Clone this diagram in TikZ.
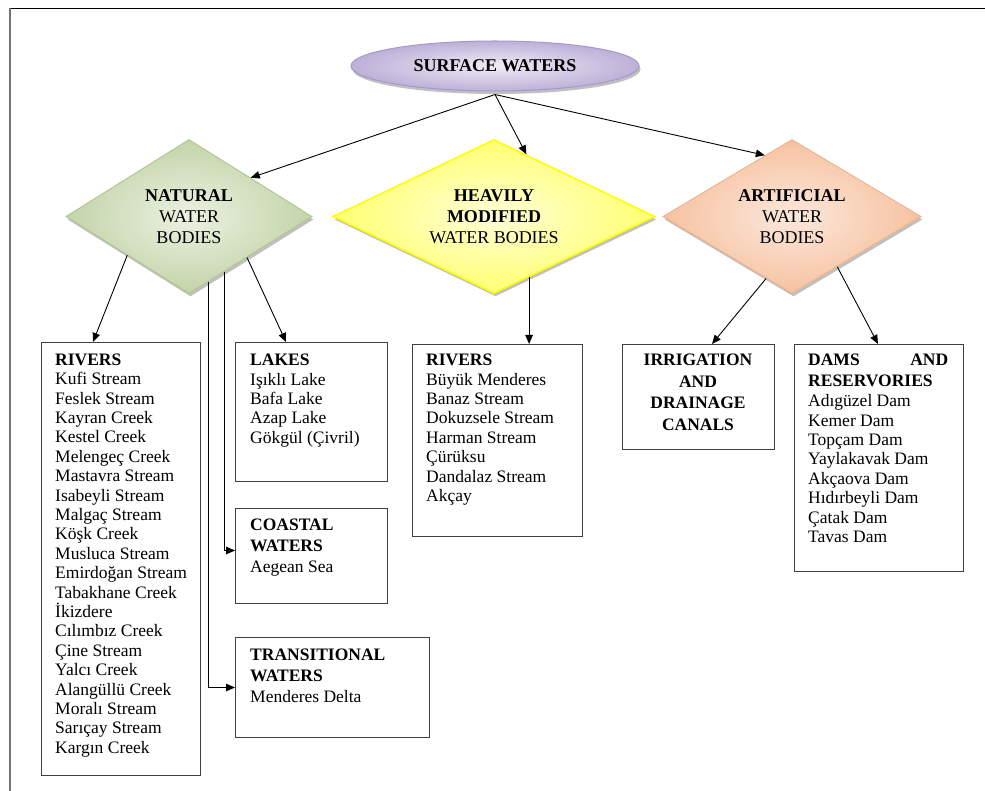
\documentclass[tikz,border=0pt]{standalone}
\usepackage{fontspec}
\setmainfont{Liberation Serif}
\usetikzlibrary{shapes.geometric,arrows.meta,calc,shadows}

\definecolor{lavEdge}{HTML}{BEB0D8}
\definecolor{lavCore}{HTML}{F0ECF6}
\definecolor{lavLine}{HTML}{A898C8}
\definecolor{grnEdge}{HTML}{C4D4A8}
\definecolor{grnCore}{HTML}{EBF1E2}
\definecolor{grnLine}{HTML}{B2C794}
\definecolor{ylwEdge}{HTML}{FFFF70}
\definecolor{ylwCore}{HTML}{FFFFD8}
\definecolor{ylwLine}{HTML}{FFFF00}
\definecolor{pchEdge}{HTML}{F6C2A0}
\definecolor{pchCore}{HTML}{FCE8DC}
\definecolor{pchLine}{HTML}{EFB48E}

\begin{document}
\begin{tikzpicture}[x=1pt,y=-1pt,
  link/.style={line width=0.9pt,-{Triangle[length=9pt,width=7.5pt]}},
  box/.style={draw=black!75,line width=1pt,fill=white,inner sep=0pt,anchor=north west},
  list/.style={anchor=north west,inner sep=0pt,align=left,
    font=\fontsize{17.5}{19.4}\selectfont,
    execute at begin node={\rule{0pt}{14pt}}},
  head/.style={list,font=\fontsize{17.5}{20.8}\selectfont},
  softshadow/.style={drop shadow={shadow xshift=1.5pt,shadow yshift=-3pt,fill=black!45,opacity=0.55}},
  kind/.style={shape=diamond,inner sep=0pt,align=center,line width=1pt,
    font=\fontsize{18}{21}\selectfont,softshadow},
]
\useasboundingbox (0,0) rectangle (985,791);

% page frame
\draw[black,line width=1.6pt] (10,8.5) -- (985,8.5);
\draw[black!55,line width=1.6pt] (10,8.5) -- (10,791);

% root
\node[ellipse,minimum width=288pt,minimum height=50pt,draw=lavLine,line width=1pt,
  shading=radial,inner color=lavCore,outer color=lavEdge,softshadow,
  font=\fontsize{18}{21}\selectfont] (sw) at (495,66) {\textbf{SURFACE WATERS}};

% the three kinds of water body
\node[kind,aspect=1.6,minimum width=246pt,minimum height=154pt,draw=grnLine,
  shading=radial,inner color=grnCore,outer color=grnEdge] (nat) at (189,216.5)
  {\textbf{NATURAL}\\WATER\\BODIES};
\node[kind,aspect=2.09,minimum width=322pt,minimum height=154pt,draw=ylwLine,line width=1.5pt,
  shading=radial,inner color=ylwCore,outer color=ylwEdge] (heavy) at (494,216.5)
  {\textbf{HEAVILY}\\\textbf{MODIFIED}\\WATER BODIES};
\node[kind,aspect=1.675,minimum width=258pt,minimum height=154pt,draw=pchLine,
  shading=radial,inner color=pchCore,outer color=pchEdge] (art) at (792,216.5)
  {\textbf{ARTIFICIAL}\\WATER\\BODIES};

% boxes
\node[box,minimum width=159pt,minimum height=433pt] (riv1) at (41,342) {};
\node[box,minimum width=152pt,minimum height=139pt] (lakes) at (235,342) {};
\node[box,minimum width=152pt,minimum height=95pt] (coast) at (235,508) {};
\node[box,minimum width=194pt,minimum height=100pt] (trans) at (235,637) {};
\node[box,minimum width=170pt,minimum height=192pt] (riv2) at (412,344) {};
\node[box,minimum width=152pt,minimum height=105pt] (irr) at (622,344) {};
\node[box,minimum width=169pt,minimum height=227pt] (dams) at (794,344) {};

% box contents
\node[list] (riv1t) at (55,353.5) {\textbf{RIVERS}\\Kufi Stream\\Feslek Stream\\Kayran Creek\\
  Kestel Creek\\Melengeç Creek\\Mastavra Stream\\Isabeyli Stream\\Malgaç Stream\\
  Köşk Creek\\Musluca Stream\\Emirdoğan Stream\\Tabakhane Creek\\İkizdere\\
  Cılımbız Creek\\Çine Stream\\Yalcı Creek\\Alangüllü Creek\\Moralı Stream\\
  Sarıçay Stream\\Kargın Creek};
\node[list] (lakest) at (250,354) {\textbf{LAKES}\\Işıklı Lake\\Bafa Lake\\Azap Lake\\Gökgül (Çivril)};
\node[head] (coastt) at (250,519) {\textbf{COASTAL}\\\textbf{WATERS}\\Aegean Sea};
\node[head] (transt) at (250,649) {\textbf{TRANSITIONAL}\\\textbf{WATERS}\\Menderes Delta};
\node[list] (riv2t) at (426,354) {\textbf{RIVERS}\\Büyük Menderes\\Banaz Stream\\
  Dokuzsele Stream\\Harman Stream\\Çürüksu\\Dandalaz Stream\\Akçay};
\node[head,anchor=north,align=center,font=\fontsize{17.5}{21.5}\selectfont] (irrt) at (698,354)
  {\textbf{IRRIGATION}\\\textbf{AND}\\\textbf{DRAINAGE}\\\textbf{CANALS}};
\node[list] (damst) at (808,354) {\makebox[140pt][s]{\textbf{DAMS}\hfill\textbf{AND}}\\[1.5pt]
  \textbf{RESERVORIES}\\[0.6pt]Adıgüzel Dam\\Kemer Dam\\Topçam Dam\\Yaylakavak Dam\\
  Akçaova Dam\\Hıdırbeyli Dam\\Çatak Dam\\Tavas Dam};

% connectors from the root
\coordinate (src) at ([yshift=-3pt]sw.south);
\draw[link] (src) -- ($(nat.north)!0.5!(nat.east)$);
\draw[link] (src) -- ($(heavy.north)!0.2!(heavy.east)$);
\draw[link] (src) -- ($(art.north)!0.21!(art.west)$);

% natural water bodies
\coordinate (natRiv) at ($(nat.south)!0.5!(nat.west)$);
\coordinate (natLak) at ($(nat.south)!0.47!(nat.east)$);
\coordinate (natCoa) at ($(nat.south)!0.29!(nat.east)$);
\coordinate (natTra) at ($(nat.south)!0.155!(nat.east)$);
\draw[link] (natRiv) -- ($(riv1.north west)+(52,0)$);
\draw[link] (natLak) -- ($(lakes.north west)+(51,0)$);
\draw[link] (natCoa) |- ([yshift=5.5pt]coast.west);
\draw[link] (natTra) |- (trans.west);

% heavily modified water bodies
\coordinate (hvRiv) at ($(heavy.south)!0.217!(heavy.east)$);
\draw[link] (hvRiv) -- (hvRiv |- riv2.north);

% artificial water bodies
\coordinate (artIrr) at ($(art.south)!0.2!(art.west)$);
\coordinate (artDam) at ($(art.south)!0.35!(art.east)$);
\draw[link] (artIrr) -- ($(irr.north west)+(90,0)$);
\draw[link] (artDam) -- ($(dams.north west)+(84,0)$);
\end{tikzpicture}
\end{document}
